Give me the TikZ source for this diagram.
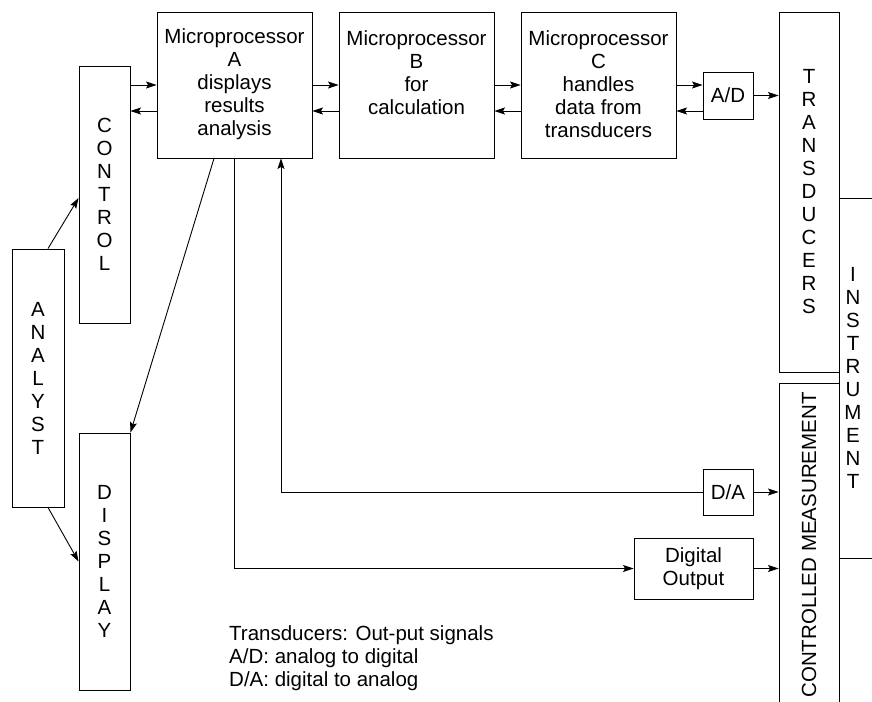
\documentclass[tikz,border=0pt]{standalone}
\usepackage{fontspec}
\setmainfont{Liberation Sans}
\usetikzlibrary{arrows.meta}
\begin{document}
\begin{tikzpicture}[x=1pt,y=-1pt,
  box/.style={draw, line width=0.9pt, inner sep=0pt, rectangle},
  txt/.style={align=center, inner sep=0pt, font=\fontsize{20.5}{23}\selectfont},
  arr/.style={line width=0.9pt, -{Stealth[length=10.5pt,width=7pt,inset=2pt]}},
  ln/.style={line width=0.9pt}]
\useasboundingbox (0,0) rectangle (872,701);
\clip (0,0) rectangle (872,701);

% signal rows between the processors
\coordinate (row1) at (0,85);
\coordinate (row2) at (0,111);

% processor boxes
\node[box, minimum width=155pt, minimum height=146pt] (pa) at (234.5,85) {};
\node[box, minimum width=155pt, minimum height=146pt] (pb) at (416.5,85) {};
\node[box, minimum width=155pt, minimum height=146pt] (pc) at (598.5,85) {};
\node[txt] (pat) at (234.5,84) {Microprocessor\\A\\displays\\results\\analysis};
\node[txt] (pbt) at (416.5,72.5) {Microprocessor\\B\\for\\calculation};
\node[txt] (pct) at (598.5,84) {Microprocessor\\C\\handles\\data from\\transducers};

% converters
\node[box, txt, minimum width=50pt, minimum height=47pt] (ad) at (728,95.5) {A/D};
\node[box, txt, minimum width=50pt, minimum height=46pt] (da) at (728,492) {D/A};
\node[box, txt, minimum width=119pt, minimum height=61pt] (dout) at (693.5,568.5) {Digital\\Output};

% instrument side
\node[box, txt, minimum width=60pt, minimum height=360pt] (trans) at (809,192) {T\\R\\A\\N\\S\\D\\U\\C\\E\\R\\S};
\node[box, minimum width=80pt, minimum height=360pt] (instr) at (879,378) {};
\node[txt] (instrt) at (853,378) {I\\N\\S\\T\\R\\U\\M\\E\\N\\T};
\node[box, minimum width=60pt, minimum height=337pt] (cm) at (809,551.5) {};
\node[txt, rotate=90] (cmt) at (809,545) {CONTROLLED MEASUREMENT};

% analyst side
\node[box, txt, minimum width=51pt, minimum height=257pt] (control) at (104.5,194.5) {C\\O\\N\\T\\R\\O\\L};
\node[box, txt, minimum width=52pt, minimum height=258pt] (analyst) at (38,378) {A\\N\\A\\L\\Y\\S\\T};
\node[box, txt, minimum width=51pt, minimum height=257pt] (display) at (104.5,561.5) {D\\I\\S\\P\\L\\A\\Y};

% legend
\node[txt, align=left, anchor=west] (legend) at (229,658) {Transducers: Out-put signals\\A/D: analog to digital\\D/A: digital to analog};

% two-way links along the top row
\draw[arr] (control.east |- row1) -- (pa.west |- row1);
\draw[arr] (pa.west |- row2) -- (control.east |- row2);
\draw[arr] (pa.east |- row1) -- (pb.west |- row1);
\draw[arr] (pb.west |- row2) -- (pa.east |- row2);
\draw[arr] (pb.east |- row1) -- (pc.west |- row1);
\draw[arr] (pc.west |- row2) -- (pb.east |- row2);
\draw[arr] (pc.east |- row1) -- (ad.west |- row1);
\draw[arr] (ad.west |- row2) -- (pc.east |- row2);
\draw[arr] (ad.east) -- (trans.west |- ad.east);

% analyst links
\draw[arr] ([xshift=10pt]analyst.north) -- ([yshift=-3.5pt]control.west);
\draw[arr] ([xshift=10pt]analyst.south) -- (display.west);
\draw[arr] ([xshift=-20.5pt]pa.south) -- (display.north east);

% output paths
\draw[arr] (pa.south) |- (dout.west);
\draw[arr] (dout.east) -- (cm.west |- dout.east);
\draw[arr] (da.west) -| ([xshift=46.5pt]pa.south);
\draw[arr] (da.east) -- (cm.west |- da.east);
\end{tikzpicture}
\end{document}
